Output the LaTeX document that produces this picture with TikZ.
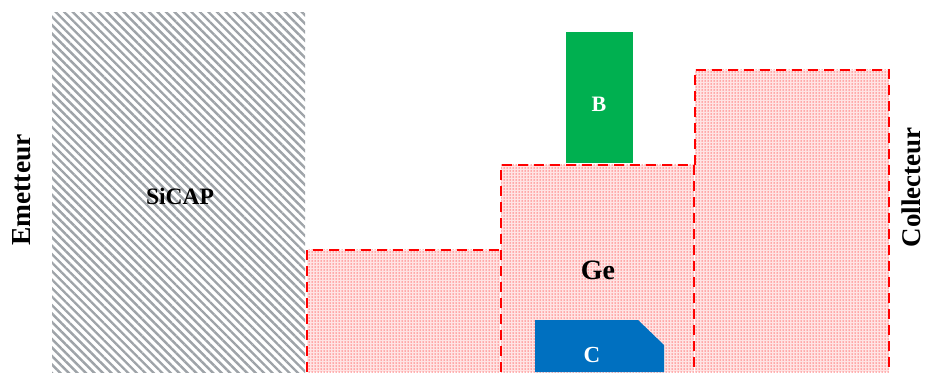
\documentclass[tikz,border=0pt]{standalone}
\usepackage{fontspec}
\setmainfont{Liberation Serif}
\usetikzlibrary{patterns,patterns.meta}
\definecolor{hatchgray}{RGB}{158,163,168}
\definecolor{pinkfill}{RGB}{255,228,228}
\definecolor{dotred}{RGB}{255,105,105}
\definecolor{bgreen}{RGB}{0,176,80}
\definecolor{cblue}{RGB}{0,112,192}
\tikzset{
  region/.style={fill=pinkfill},
  regiondots/.style={pattern={Dots[distance=3pt,radius=0.75pt]},pattern color=dotred},
  redborder/.style={draw=red,line width=2.8pt,dash pattern=on 10pt off 6pt},
}
\begin{document}
\begin{tikzpicture}[x=1pt,y=1pt]
\useasboundingbox (0,0) rectangle (925,372);
% SiCAP hatched
\path[pattern={Lines[angle=-45,distance=6pt,line width=2.4pt]},pattern color=hatchgray] (52,0) rectangle (305,359);
\node[text=black,font=\bfseries\fontsize{23.5}{26}\selectfont] (sicap) at (180,176) {SiCAP};
% pink regions
\foreach \a/\b/\t in {307/500/122, 501/694/207, 695/889/302}{
  \path[region] (\a,0) rectangle (\b,\t);
  \path[regiondots] (\a,0) rectangle (\b,\t);
}
\draw[redborder] (307,0) -- (307,122) -- (500,122);
\draw[redborder] (501,0) -- (501,207) -- (694,207) -- (694,0);
\draw[redborder] (695,207) -- (695,302) -- (889,302) -- (889,0);
% B
\fill[bgreen] (566,208.5) rectangle (633,340);
\node[text=white,font=\bfseries\fontsize{22}{24}\selectfont] (b) at (599,268) {B};
% C
\fill[cblue] (535,0) -- (535,52) -- (638,52) -- (664,27) -- (664,0) -- cycle;
\node[text=white,font=\bfseries\fontsize{23}{25}\selectfont] (c) at (592,17) {C};
% Ge
\node[font=\bfseries\fontsize{28}{30}\selectfont] (ge) at (598,102) {Ge};
% side labels
\node[rotate=90,inner sep=0pt,font=\bfseries\fontsize{27.5}{30}\selectfont] (em) at (22,182) {Emetteur};
\node[rotate=90,inner sep=0pt,font=\bfseries\fontsize{27}{30}\selectfont] (col) at (911.5,184.5) {Collecteur};
\end{tikzpicture}
\end{document}
